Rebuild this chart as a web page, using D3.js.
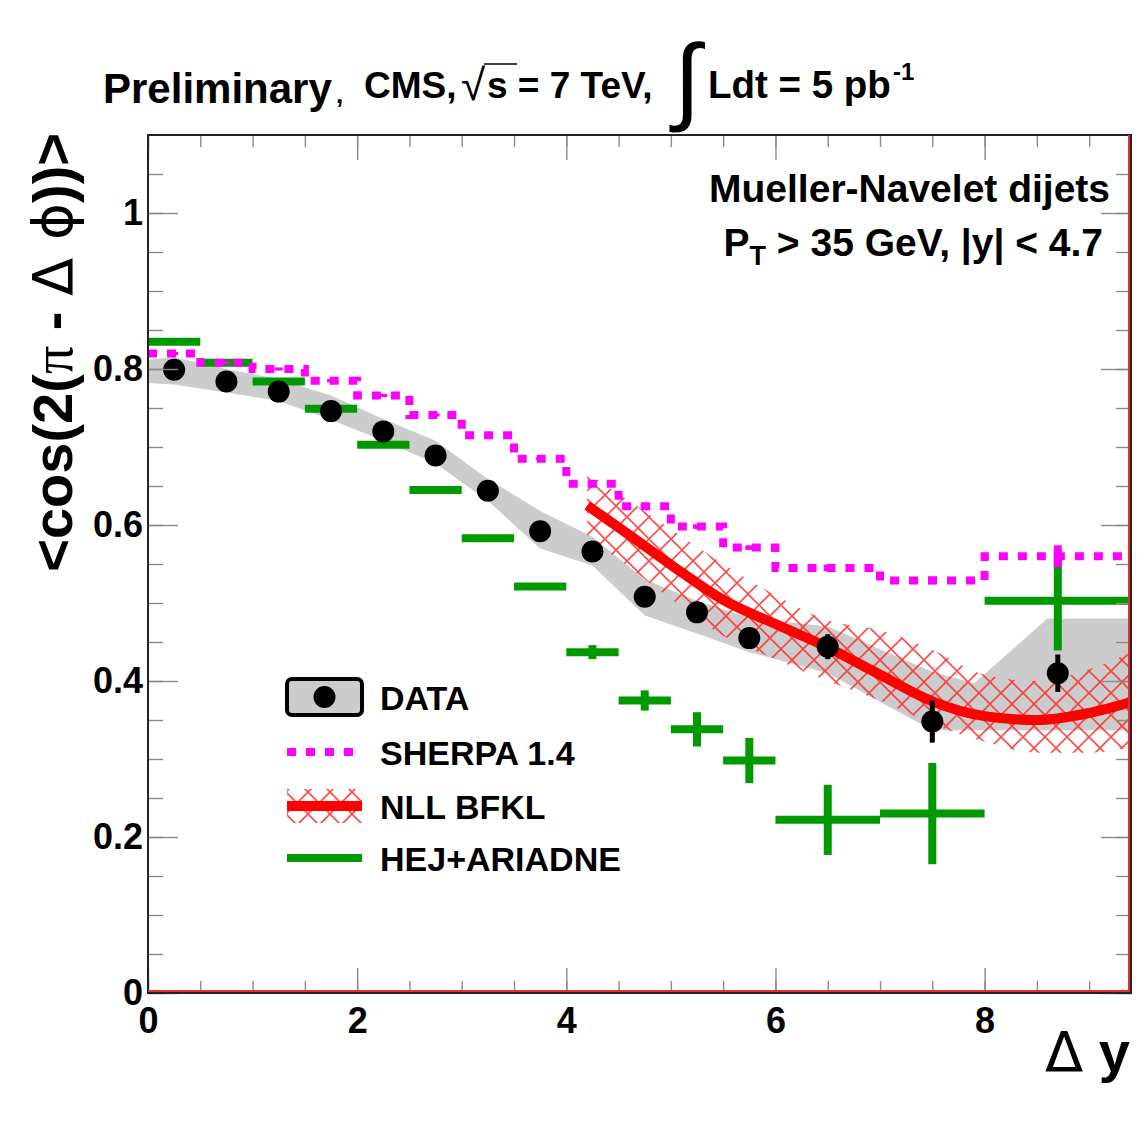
<!DOCTYPE html>
<html>
<head>
<meta charset="utf-8">
<script src="https://cdn.jsdelivr.net/npm/d3@7"></script>
<style>
  body { margin: 0; background: #fff; }
  text { font-family: "Liberation Sans", Arial, Helvetica, sans-serif; }
</style>
</head>
<body>
<script>
// Azimuthal decorrelation of Mueller-Navelet dijets vs rapidity separation

// ---- axis ticks ----
const xMajorTicks = [0, 2, 4, 6, 8];
const xMinorTicks = [0, 0.5, 1, 1.5, 2, 2.5, 3, 3.5, 4, 4.5, 5, 5.5, 6, 6.5, 7, 7.5, 8, 8.5, 9];
const yMajorTicks = [0, 0.2, 0.4, 0.6, 0.8, 1.0];
const yMinorTicks = [0, 0.05, 0.1, 0.15, 0.2, 0.25, 0.3, 0.35, 0.4, 0.45, 0.5, 0.55, 0.6, 0.65, 0.7, 0.75, 0.8, 0.85, 0.9, 0.95, 1.0, 1.05];
const yTickLabels = ["0", "0.2", "0.4", "0.6", "0.8", "1"];

// ---- measured data ----
const dataX   = [0.25, 0.75, 1.25, 1.75, 2.25, 2.75, 3.25, 3.75, 4.25, 4.75, 5.25, 5.75, 6.5, 7.5, 8.7];
const dataY   = [0.799, 0.784, 0.771, 0.746, 0.720, 0.689, 0.644, 0.592, 0.566, 0.508, 0.488, 0.455, 0.444, 0.348, 0.410];
const dataErr = [0.003, 0.003, 0.003, 0.004, 0.004, 0.005, 0.005, 0.006, 0.006, 0.007, 0.008, 0.009, 0.016, 0.027, 0.024];

// systematic uncertainty band of the data
const bandX    = [0, 0.25, 0.75, 1.25, 1.75, 2.25, 2.75, 3.25, 3.75, 4.25, 4.75, 5.25, 5.75, 6.5, 7.5, 7.9, 8.6, 9.4];
const bandLow  = [0.782, 0.780, 0.770, 0.759, 0.735, 0.708, 0.679, 0.631, 0.570, 0.548, 0.484, 0.461, 0.437, 0.410, 0.337, 0.337, 0.337, 0.337];
const bandHigh = [0.812, 0.815, 0.800, 0.787, 0.766, 0.736, 0.708, 0.659, 0.618, 0.585, 0.530, 0.503, 0.481, 0.470, 0.412, 0.397, 0.480, 0.480];

// ---- generator predictions (binned) ----
const binEdges = [0, 0.5, 1, 1.5, 2, 2.5, 3, 3.5, 4, 4.5, 5, 5.5, 6, 7, 8, 9.4];
const sherpaY   = [0.820, 0.808, 0.800, 0.785, 0.766, 0.741, 0.715, 0.685, 0.653, 0.624, 0.598, 0.571, 0.545, 0.529, 0.560];
const sherpaErr = [0.002, 0.002, 0.002, 0.002, 0.002, 0.002, 0.002, 0.002, 0.003, 0.003, 0.003, 0.003, 0.004, 0.005, 0.014];
const hejY   = [0.835, 0.808, 0.784, 0.749, 0.703, 0.645, 0.583, 0.521, 0.437, 0.375, 0.338, 0.298, 0.222, 0.230, 0.503];
const hejErr = [0.002, 0.002, 0.002, 0.002, 0.002, 0.003, 0.003, 0.004, 0.009, 0.013, 0.022, 0.029, 0.045, 0.065, 0.064];

// ---- NLL BFKL calculation with its uncertainty ----
const nllX    = [4.2, 4.5, 5.0, 5.5, 6.0, 6.5, 7.0, 7.5, 8.0, 8.5, 9.0, 9.4];
const nllY    = [0.625, 0.597, 0.549, 0.504, 0.473, 0.443, 0.408, 0.374, 0.355, 0.350, 0.359, 0.373];
const nllLow  = [0.584, 0.556, 0.505, 0.458, 0.428, 0.400, 0.375, 0.345, 0.322, 0.308, 0.308, 0.315];
const nllHigh = [0.667, 0.640, 0.595, 0.550, 0.510, 0.478, 0.465, 0.440, 0.408, 0.400, 0.415, 0.437];

const legendLabels = ["DATA", "SHERPA 1.4", "NLL BFKL", "HEJ+ARIADNE"];

// ---- layout ----
const W = 1146, H = 1126;
const frame = { left: 148, right: 1131, top: 135, bottom: 993 };
const GREEN = "#009a00", MAGENTA = "#ff00ff", RED = "#ff0000", GREY = "#cccccc";

const x = d3.scaleLinear().domain([0, 9.4]).range([frame.left, frame.right]);
const y = d3.scaleLinear().domain([0, 1.1]).range([frame.bottom, frame.top]);

const svg = d3.select("body").append("svg")
  .attr("width", W).attr("height", H)
  .attr("viewBox", `0 0 ${W} ${H}`);

const defs = svg.append("defs");
const HS = 22;
const pat = defs.append("pattern")
  .attr("id", "xhatch").attr("patternUnits", "userSpaceOnUse")
  .attr("width", HS).attr("height", HS);
pat.append("path")
  .attr("d", `M-2,-2 L${HS + 2},${HS + 2} M${HS + 2},-2 L-2,${HS + 2}`)
  .attr("stroke", "#ff2a2a").attr("stroke-width", 1.6).attr("stroke-opacity", 0.85)
  .attr("fill", "none");

defs.append("clipPath").attr("id", "plotclip")
  .append("rect").attr("x", frame.left).attr("y", frame.top)
  .attr("width", frame.right - frame.left).attr("height", frame.bottom - frame.top);

const plot = svg.append("g").attr("clip-path", "url(#plotclip)");

// data systematic band
plot.append("path")
  .datum(bandX.map((d, i) => [d, bandLow[i], bandHigh[i]]))
  .attr("fill", GREY)
  .attr("d", d3.area().x(d => x(d[0])).y0(d => y(d[1])).y1(d => y(d[2])));

// NLL BFKL uncertainty (cross-hatched) and central curve
plot.append("path")
  .datum(nllX.map((d, i) => [d, nllLow[i], nllHigh[i]]))
  .attr("fill", "url(#xhatch)")
  .attr("d", d3.area().curve(d3.curveMonotoneX).x(d => x(d[0])).y0(d => y(d[1])).y1(d => y(d[2])));

plot.append("path")
  .datum(nllX.map((d, i) => [d, nllY[i]]))
  .attr("fill", "none").attr("stroke", RED).attr("stroke-width", 10)
  .attr("d", d3.line().curve(d3.curveMonotoneX).x(d => x(d[0])).y(d => y(d[1])));

// HEJ+ARIADNE bins with error bars
const nBins = binEdges.length - 1;
const bins = d3.range(nBins).map(i => ({
  x0: binEdges[i], x1: binEdges[i + 1], xc: (binEdges[i] + binEdges[i + 1]) / 2,
  hej: hejY[i], hejErr: hejErr[i], sherpa: sherpaY[i], sherpaErr: sherpaErr[i]
}));

const hejG = plot.append("g").attr("stroke", GREEN).attr("stroke-width", 8);
hejG.selectAll("line.h").data(bins).join("line").attr("class", "h")
  .attr("x1", d => x(d.x0)).attr("x2", d => x(d.x1))
  .attr("y1", d => y(d.hej)).attr("y2", d => y(d.hej));
hejG.selectAll("line.v").data(bins).join("line").attr("class", "v")
  .attr("x1", d => x(d.xc)).attr("x2", d => x(d.xc))
  .attr("y1", d => y(d.hej - d.hejErr)).attr("y2", d => y(d.hej + d.hejErr));

// SHERPA histogram (dotted step line)
const stepPts = bins.map(d => [d.x0, d.sherpa]).concat([[binEdges[nBins], sherpaY[nBins - 1]]]);
plot.append("path")
  .datum(stepPts)
  .attr("fill", "none").attr("stroke", MAGENTA).attr("stroke-width", 8)
  .attr("stroke-dasharray", "9,10")
  .attr("d", d3.line().curve(d3.curveStepAfter).x(d => x(d[0])).y(d => y(d[1])));
plot.append("g").attr("stroke", MAGENTA).attr("stroke-width", 8)
  .selectAll("line").data(bins).join("line")
  .attr("x1", d => x(d.xc)).attr("x2", d => x(d.xc))
  .attr("y1", d => y(d.sherpa - d.sherpaErr)).attr("y2", d => y(d.sherpa + d.sherpaErr));

// data points
const pts = dataX.map((d, i) => ({ x: d, y: dataY[i], e: dataErr[i] }));
plot.append("g").attr("stroke", "#000").attr("stroke-width", 5)
  .selectAll("line").data(pts).join("line")
  .attr("x1", d => x(d.x)).attr("x2", d => x(d.x))
  .attr("y1", d => y(d.y - d.e)).attr("y2", d => y(d.y + d.e));
plot.append("g").selectAll("circle").data(pts).join("circle")
  .attr("cx", d => x(d.x)).attr("cy", d => y(d.y)).attr("r", 11).attr("fill", "#000");

// ---- axes (ticks on all four sides, pointing inwards) ----
function styleAxis(g) {
  g.select(".domain").remove();
  g.selectAll(".tick line").attr("stroke", "#8a8a8a").attr("stroke-width", 1.4);
  g.selectAll(".tick text").attr("fill", "#000").attr("font-weight", "bold").attr("font-size", 36)
    .attr("font-family", "'Liberation Sans', Arial, sans-serif");
}
svg.append("g").attr("transform", `translate(0,${frame.bottom})`)
  .call(d3.axisBottom(x).tickValues(xMinorTicks).tickSize(-12).tickFormat(""))
  .call(styleAxis);
svg.append("g").attr("transform", `translate(0,${frame.bottom})`)
  .call(d3.axisBottom(x).tickValues(xMajorTicks).tickSize(-25).tickPadding(14).tickFormat(d3.format("d")))
  .call(styleAxis);
svg.append("g").attr("transform", `translate(0,${frame.top})`)
  .call(d3.axisTop(x).tickValues(xMinorTicks).tickSize(-12).tickFormat(""))
  .call(styleAxis);
svg.append("g").attr("transform", `translate(0,${frame.top})`)
  .call(d3.axisTop(x).tickValues(xMajorTicks).tickSize(-25).tickFormat(""))
  .call(styleAxis);
svg.append("g").attr("transform", `translate(${frame.left},0)`)
  .call(d3.axisLeft(y).tickValues(yMinorTicks).tickSize(-15).tickFormat(""))
  .call(styleAxis);
svg.append("g").attr("transform", `translate(${frame.left},0)`)
  .call(d3.axisLeft(y).tickValues(yMajorTicks).tickSize(-30).tickPadding(5)
    .tickFormat((d, i) => yTickLabels[i]))
  .call(styleAxis);
svg.append("g").attr("transform", `translate(${frame.right},0)`)
  .call(d3.axisRight(y).tickValues(yMinorTicks).tickSize(-15).tickFormat(""))
  .call(styleAxis);
svg.append("g").attr("transform", `translate(${frame.right},0)`)
  .call(d3.axisRight(y).tickValues(yMajorTicks).tickSize(-30).tickFormat(""))
  .call(styleAxis);

// frame
svg.append("rect")
  .attr("x", frame.left).attr("y", frame.top)
  .attr("width", frame.right - frame.left).attr("height", frame.bottom - frame.top)
  .attr("fill", "none").attr("stroke", "#222").attr("stroke-width", 2);
svg.append("path")
  .attr("d", `M${frame.left},${frame.bottom - 2} H${frame.right - 2} V${frame.top}`)
  .attr("fill", "none").attr("stroke", "#e03030").attr("stroke-width", 2);

// ---- axis titles ----
const yt = svg.append("text")
  .attr("transform", `translate(72,${frame.top - 2}) rotate(-90)`)
  .attr("text-anchor", "end").attr("font-size", 56).attr("font-weight", "bold");
yt.append("tspan").text("<cos(2(");
yt.append("tspan").attr("font-weight", "normal").attr("font-family", "'Liberation Serif', 'Times New Roman', serif").text("π");
yt.append("tspan").text(" - ");
yt.append("tspan").attr("font-weight", "normal").attr("font-family", "'DejaVu Sans', sans-serif").text("Δ ϕ");
yt.append("tspan").text("))>");

const xt = svg.append("text")
  .attr("x", 1130).attr("y", 1071).attr("text-anchor", "end")
  .attr("font-size", 56).attr("font-weight", "bold");
xt.append("tspan").attr("font-weight", "normal").attr("font-family", "'DejaVu Sans', sans-serif").text("Δ");
xt.append("tspan").text(" y");

// ---- header ----
svg.append("text").attr("x", 103).attr("y", 103)
  .attr("font-size", 42).attr("font-weight", "bold").text("Preliminary");
svg.append("text").attr("x", 336).attr("y", 103)
  .attr("font-size", 26).attr("font-weight", "bold").text(",");
svg.append("text").attr("x", 364).attr("y", 98)
  .attr("font-size", 37).attr("font-weight", "bold").text("CMS,");
svg.append("text").attr("x", 461).attr("y", 100)
  .attr("font-size", 44).attr("font-family", "'DejaVu Sans', sans-serif").text("√");
svg.append("line").attr("x1", 484).attr("x2", 517).attr("y1", 64).attr("y2", 64)
  .attr("stroke", "#000").attr("stroke-width", 1.5);
svg.append("text").attr("x", 487).attr("y", 98)
  .attr("font-size", 37).attr("font-weight", "bold").text("s = 7 TeV,");
svg.append("text").attr("x", 674).attr("y", 112)
  .attr("font-size", 96).attr("font-family", "'Liberation Sans', sans-serif").text("∫");
svg.append("text").attr("x", 708).attr("y", 98)
  .attr("font-size", 38.5).attr("font-weight", "bold").text("Ldt = 5 pb");
svg.append("text").attr("x", 893).attr("y", 80)
  .attr("font-size", 24).attr("font-weight", "bold").text("-1");

svg.append("text").attr("x", 1110).attr("y", 202).attr("text-anchor", "end")
  .attr("font-size", 39).attr("font-weight", "bold").text("Mueller-Navelet dijets");
const pt = svg.append("text").attr("x", 1103).attr("y", 256).attr("text-anchor", "end")
  .attr("font-size", 39).attr("font-weight", "bold");
pt.append("tspan").text("P");
pt.append("tspan").attr("font-size", 27).attr("dy", 9).text("T");
pt.append("tspan").attr("dy", -9).text(" > 35 GeV, |y| < 4.7");

// ---- legend ----
const lg = svg.append("g");
const rowY = [697, 752, 806, 858];
const symX0 = 287, symX1 = 362;
// DATA
lg.append("rect").attr("x", symX0).attr("y", rowY[0] - 18).attr("width", symX1 - symX0).attr("height", 36)
  .attr("rx", 5).attr("fill", GREY).attr("stroke", "#000").attr("stroke-width", 4);
lg.append("circle").attr("cx", (symX0 + symX1) / 2).attr("cy", rowY[0]).attr("r", 11).attr("fill", "#000");
// SHERPA
lg.append("line").attr("x1", symX0).attr("x2", symX1).attr("y1", rowY[1]).attr("y2", rowY[1])
  .attr("stroke", MAGENTA).attr("stroke-width", 8).attr("stroke-dasharray", "9,10");
// NLL BFKL
lg.append("rect").attr("x", symX0).attr("y", rowY[2] - 17).attr("width", symX1 - symX0).attr("height", 34)
  .attr("fill", "url(#xhatch)");
lg.append("line").attr("x1", symX0).attr("x2", symX1).attr("y1", rowY[2]).attr("y2", rowY[2])
  .attr("stroke", RED).attr("stroke-width", 10);
// HEJ+ARIADNE
lg.append("line").attr("x1", symX0).attr("x2", symX1).attr("y1", rowY[3]).attr("y2", rowY[3])
  .attr("stroke", GREEN).attr("stroke-width", 8);
lg.selectAll("text.lab").data(legendLabels).join("text").attr("class", "lab")
  .attr("x", 380).attr("y", (d, i) => rowY[i] + 13)
  .attr("font-size", 34).attr("font-weight", "bold").text(d => d);
</script>
</body>
</html>
